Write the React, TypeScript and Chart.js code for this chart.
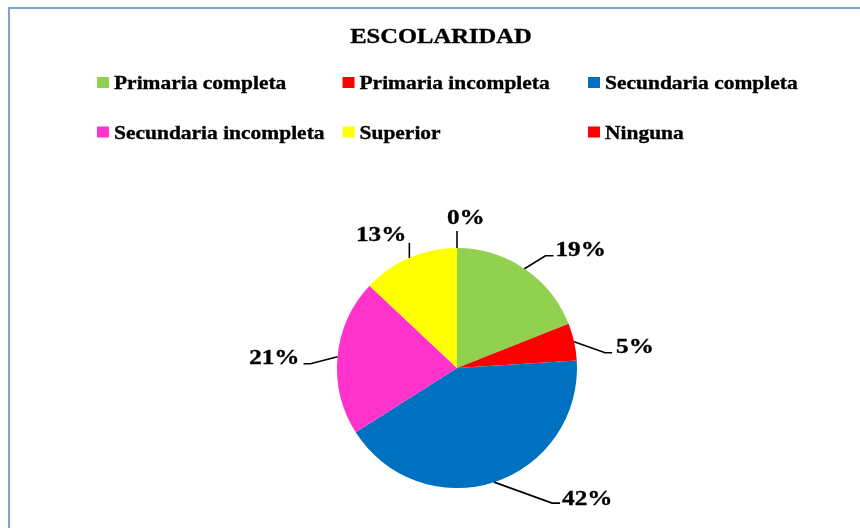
import React, { useEffect, useRef } from "react";
import { Chart, registerables } from "chart.js";

Chart.register(...registerables);

const title = "ESCOLARIDAD";
const categories = [
  "Primaria completa",
  "Primaria incompleta",
  "Secundaria completa",
  "Secundaria incompleta",
  "Superior",
  "Ninguna",
];
const values = [19, 5, 42, 21, 13, 0];
const colors = ["#92D050", "#FF0000", "#0070C0", "#FF33CC", "#FFFF00", "#FF0000"];

// label leader styling (relative to each computed arc edge point)
const leaderOffset = [[21, -13], [31, 11], [58, 21], [-27, 7], [0, -15], [0, -17]];
const leaderSeg = [8, 7, 8, -7, 0, 0];
const labelShift = [[2, 0], [4, 0], [2, 2], [-4, 0], [-3, -2], [-10, -7]];
const labelAlign: CanvasTextAlign[] = ["left", "left", "left", "right", "right", "left"];

const FONT = "'Liberation Serif', 'Times New Roman', serif";

function drawText(
  ctx: CanvasRenderingContext2D,
  text: string,
  x: number,
  y: number,
  align: CanvasTextAlign,
  sx: number
) {
  const w = ctx.measureText(text).width * sx;
  let left = x;
  if (align === "center") left = x - w / 2;
  else if (align === "right") left = x - w;
  ctx.save();
  ctx.textAlign = "left";
  ctx.translate(left, y);
  ctx.scale(sx, 1);
  ctx.fillText(text, 0, 0);
  ctx.lineWidth = 0.35;
  ctx.strokeStyle = "#000";
  ctx.strokeText(text, 0, 0);
  ctx.restore();
}

const decorPlugin = {
  id: "decor",
  afterDraw(chart: any) {
    const ctx: CanvasRenderingContext2D = chart.ctx;
    const total = values.reduce((a, b) => a + b, 0);
    ctx.save();
    // frame
    ctx.strokeStyle = "#7BA3D8";
    ctx.lineWidth = 2;
    ctx.strokeRect(9, 8, 900, 600);

    // title
    ctx.fillStyle = "#000";
    ctx.font = `bold 21px ${FONT}`;
    ctx.textBaseline = "alphabetic";
    drawText(ctx, title, 441, 43, "center", 1.17);

    // legend
    ctx.font = `bold 19px ${FONT}`;
    categories.forEach((c, i) => {
      const col = i % 3;
      const row = Math.floor(i / 3);
      const bx = 97 + col * 245.5;
      const by = 77 + row * 49.5;
      ctx.fillStyle = colors[i];
      ctx.fillRect(bx, by, 12, 11);
      ctx.fillStyle = "#000";
      drawText(ctx, c, bx + 17, by + 12, "left", 1.13);
    });

    // data labels with leader lines
    const meta = chart.getDatasetMeta(0);
    ctx.font = `bold 21px ${FONT}`;
    meta.data.forEach((arc: any, i: number) => {
      const p = arc.getProps(["x", "y", "startAngle", "endAngle", "outerRadius"], true);
      const mid = (p.startAngle + p.endAngle) / 2;
      const ex = p.x + Math.cos(mid) * p.outerRadius;
      const ey = p.y + Math.sin(mid) * p.outerRadius;
      const kx = ex + leaderOffset[i][0];
      const ky = ey + leaderOffset[i][1];
      const lx = kx + leaderSeg[i];
      ctx.strokeStyle = "#000";
      ctx.lineWidth = 1.6;
      ctx.beginPath();
      ctx.moveTo(ex, ey);
      ctx.lineTo(kx, ky);
      ctx.lineTo(lx, ky);
      ctx.stroke();
      const pct = Math.round((values[i] / total) * 100) + "%";
      ctx.fillStyle = "#000";
      drawText(ctx, pct, lx + labelShift[i][0], ky + labelShift[i][1], labelAlign[i], 1.2);
    });
    ctx.restore();
  },
};

export default function App() {
  const ref = useRef<HTMLCanvasElement>(null);
  useEffect(() => {
    document.body.style.margin = "0";
    const chart = new Chart(ref.current!, {
      type: "pie",
      data: {
        labels: categories,
        datasets: [
          {
            data: values,
            backgroundColor: colors,
            borderWidth: 0,
          },
        ],
      },
      options: {
        animation: false,
        responsive: false,
        maintainAspectRatio: false,
        layout: { padding: { left: 300, right: 246, top: 248, bottom: 40 } },
        plugins: {
          legend: { display: false },
          title: { display: false },
          tooltip: { enabled: false },
        },
      },
      plugins: [decorPlugin],
    });
    return () => chart.destroy();
  }, []);
  return (
    <div style={{ width: 860, height: 528, overflow: "hidden", background: "#fff" }}>
      <canvas ref={ref} width={860} height={528} style={{ display: "block" }} />
    </div>
  );
}
